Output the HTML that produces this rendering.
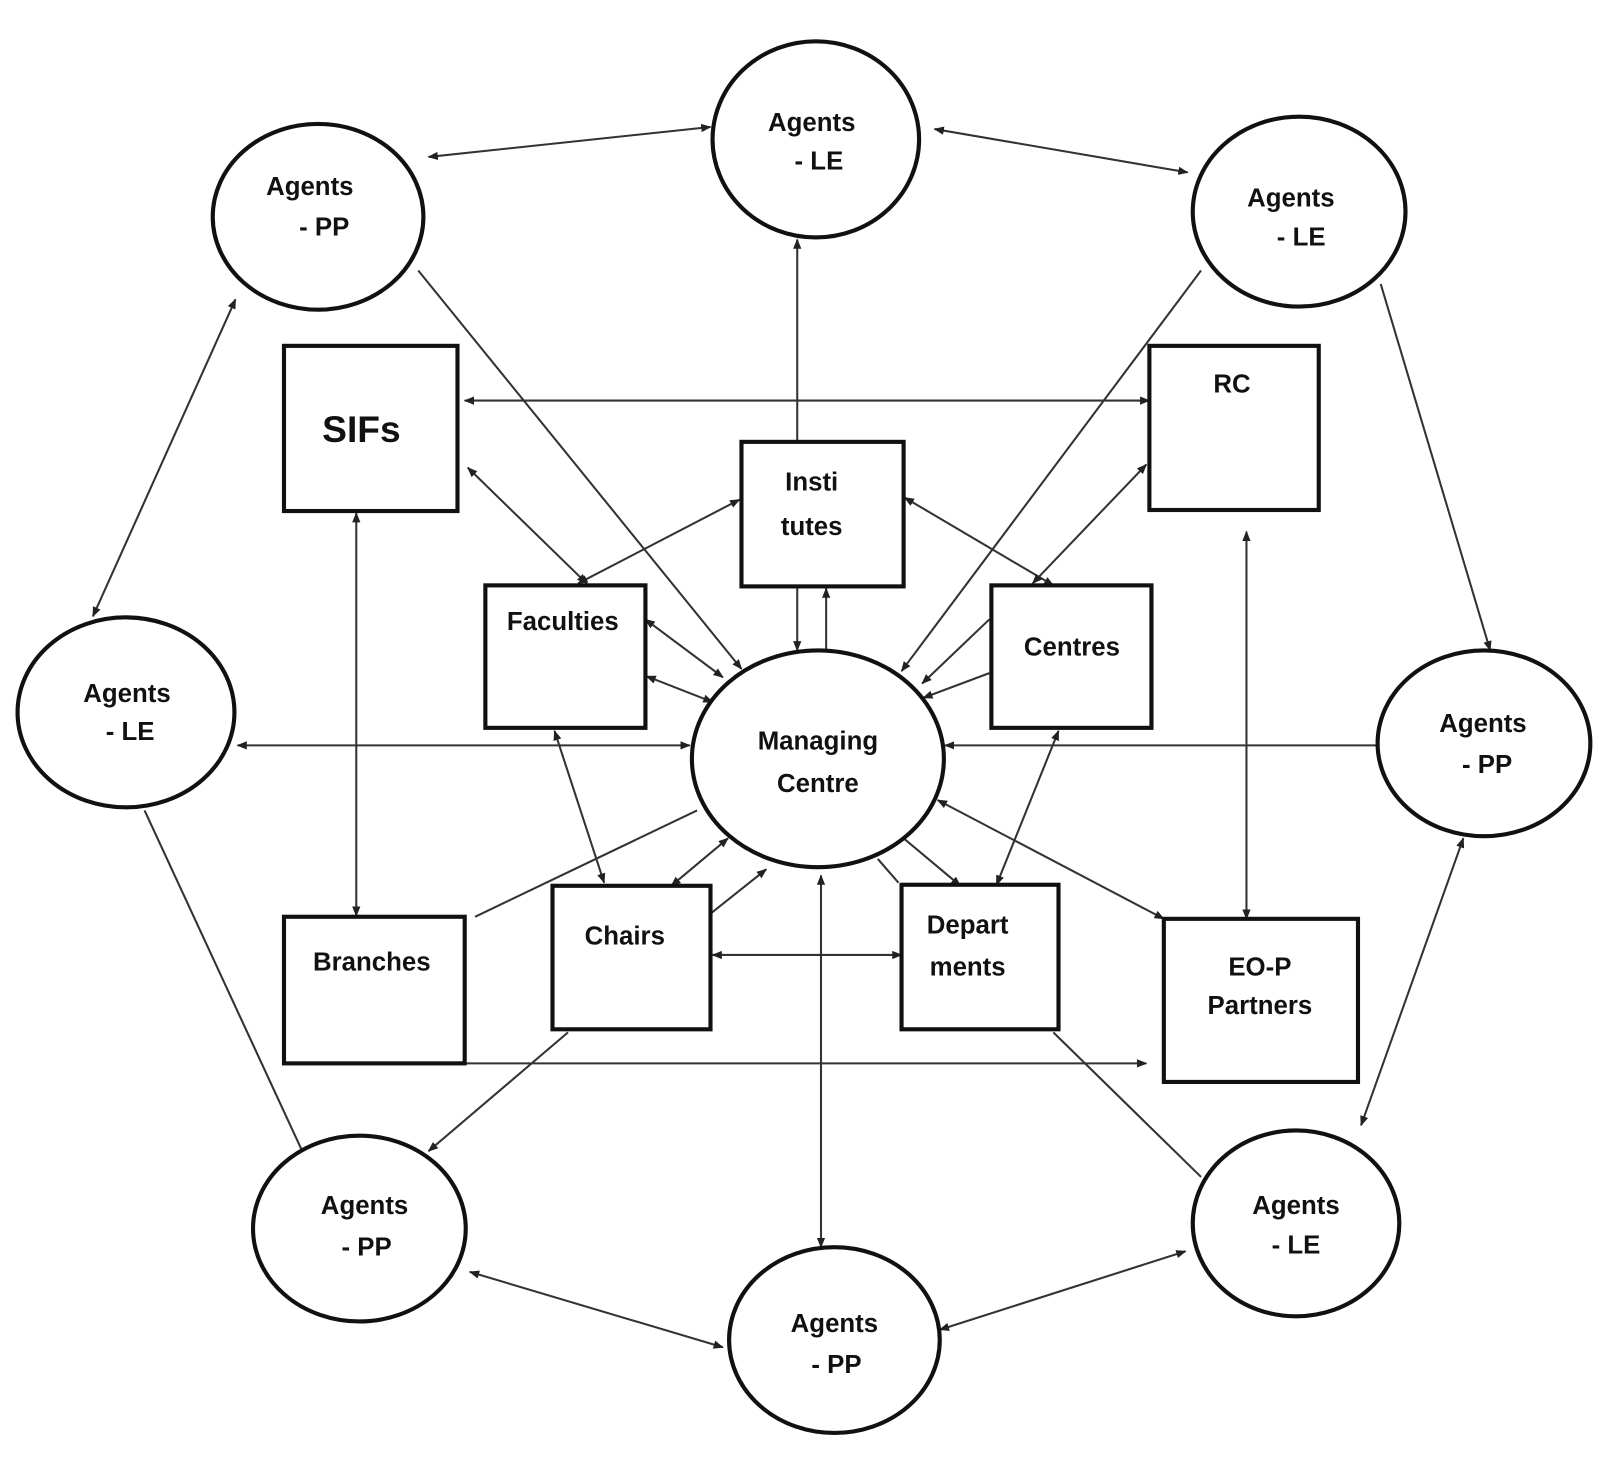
<!DOCTYPE html>
<html><head><meta charset="utf-8"><style>html,body{margin:0;padding:0;background:#fff}svg{display:block}</style></head>
<body>
<svg width="1611" height="1466" viewBox="0 0 1560 1420" preserveAspectRatio="none" xmlns="http://www.w3.org/2000/svg">
<defs>
<marker id="a" viewBox="0 0 10 10" refX="9" refY="5" markerWidth="5" markerHeight="5" orient="auto-start-reverse"><path d="M0,1 L10,5 L0,9 z" fill="#222"/></marker>
</defs>
<g stroke="#333" stroke-width="2" fill="none">
<line x1="415" y1="152" x2="688" y2="123" marker-start="url(#a)" marker-end="url(#a)"/>
<line x1="905" y1="125" x2="1150" y2="167" marker-start="url(#a)" marker-end="url(#a)"/>
<line x1="772" y1="428" x2="772" y2="232" marker-end="url(#a)"/>
<line x1="405" y1="262" x2="718" y2="648" marker-end="url(#a)"/>
<line x1="1163" y1="262" x2="873" y2="650" marker-end="url(#a)"/>
<line x1="1337" y1="275" x2="1443" y2="630" marker-end="url(#a)"/>
<line x1="450" y1="388" x2="1113" y2="388" marker-start="url(#a)" marker-end="url(#a)"/>
<line x1="453" y1="453" x2="568" y2="565" marker-start="url(#a)" marker-end="url(#a)"/>
<line x1="716" y1="484" x2="560" y2="565" marker-start="url(#a)" marker-end="url(#a)"/>
<line x1="625" y1="600" x2="700" y2="656" marker-start="url(#a)" marker-end="url(#a)"/>
<line x1="626" y1="655" x2="690" y2="680" marker-start="url(#a)" marker-end="url(#a)"/>
<line x1="876" y1="482" x2="1020" y2="567" marker-start="url(#a)" marker-end="url(#a)"/>
<line x1="1110" y1="450" x2="1000" y2="565" marker-start="url(#a)" marker-end="url(#a)"/>
<line x1="958" y1="600" x2="893" y2="662" marker-end="url(#a)"/>
<line x1="958" y1="652" x2="894" y2="676" marker-end="url(#a)"/>
<line x1="772" y1="568" x2="772" y2="630" marker-end="url(#a)"/>
<line x1="800" y1="630" x2="800" y2="570" marker-end="url(#a)"/>
<line x1="230" y1="722" x2="668" y2="722" marker-start="url(#a)" marker-end="url(#a)"/>
<line x1="1333" y1="722" x2="915" y2="722" marker-end="url(#a)"/>
<line x1="345" y1="497" x2="345" y2="887" marker-start="url(#a)" marker-end="url(#a)"/>
<line x1="228" y1="290" x2="90" y2="597" marker-start="url(#a)" marker-end="url(#a)"/>
<line x1="140" y1="785" x2="295" y2="1120"/>
<line x1="675" y1="785" x2="460" y2="888"/>
<line x1="537" y1="708" x2="585" y2="855" marker-start="url(#a)" marker-end="url(#a)"/>
<line x1="705" y1="812" x2="650" y2="858" marker-start="url(#a)" marker-end="url(#a)"/>
<line x1="688" y1="885" x2="742" y2="842" marker-end="url(#a)"/>
<line x1="795" y1="848" x2="795" y2="1208" marker-start="url(#a)" marker-end="url(#a)"/>
<line x1="690" y1="925" x2="873" y2="925" marker-start="url(#a)" marker-end="url(#a)"/>
<line x1="875" y1="812" x2="930" y2="858" marker-end="url(#a)"/>
<line x1="850" y1="832" x2="870" y2="855"/>
<line x1="1025" y1="708" x2="965" y2="857" marker-start="url(#a)" marker-end="url(#a)"/>
<line x1="908" y1="775" x2="1127" y2="890" marker-start="url(#a)" marker-end="url(#a)"/>
<line x1="1207" y1="515" x2="1207" y2="890" marker-start="url(#a)" marker-end="url(#a)"/>
<line x1="1417" y1="812" x2="1318" y2="1090" marker-start="url(#a)" marker-end="url(#a)"/>
<line x1="450" y1="1030" x2="1110" y2="1030" marker-end="url(#a)"/>
<line x1="550" y1="1000" x2="415" y2="1115" marker-end="url(#a)"/>
<line x1="1020" y1="1000" x2="1163" y2="1140"/>
<line x1="455" y1="1232" x2="700" y2="1305" marker-start="url(#a)" marker-end="url(#a)"/>
<line x1="910" y1="1288" x2="1148" y2="1212" marker-start="url(#a)" marker-end="url(#a)"/>
</g>
<g stroke="#111" stroke-width="4" fill="#fff">
<ellipse cx="790" cy="135" rx="100" ry="95"/>
<ellipse cx="308" cy="210" rx="102" ry="90"/>
<ellipse cx="1258" cy="205" rx="103" ry="92"/>
<ellipse cx="122" cy="690" rx="105" ry="92"/>
<ellipse cx="1437" cy="720" rx="103" ry="90"/>
<ellipse cx="348" cy="1190" rx="103" ry="90"/>
<ellipse cx="808" cy="1298" rx="102" ry="90"/>
<ellipse cx="1255" cy="1185" rx="100" ry="90"/>
<ellipse cx="792" cy="735" rx="122" ry="105"/>
<rect x="275" y="335" width="168" height="160"/>
<rect x="1113" y="335" width="164" height="159"/>
<rect x="718" y="428" width="157" height="140"/>
<rect x="470" y="567" width="155" height="138"/>
<rect x="960" y="567" width="155" height="138"/>
<rect x="275" y="888" width="175" height="142"/>
<rect x="535" y="858" width="153" height="139"/>
<rect x="873" y="857" width="152" height="140"/>
<rect x="1127" y="890" width="188" height="158"/>
</g>
<g font-family="Liberation Sans, sans-serif" font-weight="bold" font-size="25" fill="#111" text-anchor="middle">
<text x="786" y="127">Agents</text><text x="793" y="164">- LE</text>
<text x="300" y="189">Agents</text><text x="314" y="228">- PP</text>
<text x="1250" y="200">Agents</text><text x="1260" y="238">- LE</text>
<text x="123" y="680">Agents</text><text x="126" y="717">- LE</text>
<text x="1436" y="709">Agents</text><text x="1440" y="749">- PP</text>
<text x="353" y="1176">Agents</text><text x="355" y="1216">- PP</text>
<text x="808" y="1290">Agents</text><text x="810" y="1330">- PP</text>
<text x="1255" y="1176">Agents</text><text x="1255" y="1214">- LE</text>
<text x="792" y="726">Managing</text><text x="792" y="767">Centre</text>
<text x="350" y="428" font-size="36">SIFs</text>
<text x="1193" y="380">RC</text>
<text x="786" y="475">Insti</text><text x="786" y="518">tutes</text>
<text x="545" y="610">Faculties</text>
<text x="1038" y="635">Centres</text>
<text x="360" y="940">Branches</text>
<text x="605" y="915">Chairs</text>
<text x="937" y="904">Depart</text><text x="937" y="945">ments</text>
<text x="1220" y="945">EO-P</text><text x="1220" y="982">Partners</text>
</g>
</svg>
</body></html>
